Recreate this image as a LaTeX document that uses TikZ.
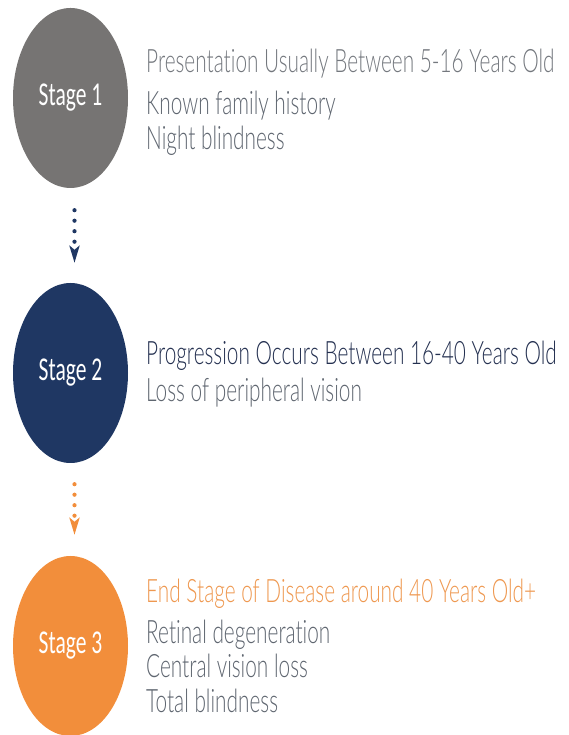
\documentclass[tikz,border=0pt]{standalone}
\usepackage{graphicx}
\usepackage{fontspec}
\setmainfont{Lato}
\newfontfamily\lightfont[Ligatures={NoCommon}]{Lato Light}
\newfontfamily\stagefont{Carlito}
\usepackage{xcolor}
\definecolor{ringgray}{HTML}{767473}
\definecolor{ringnavy}{HTML}{1F3763}
\definecolor{ringorange}{HTML}{F28E3B}
\definecolor{txt}{HTML}{5F6670}
\definecolor{headgray}{HTML}{74787E}
\definecolor{headnavy}{HTML}{243050}
\definecolor{headorange}{HTML}{EE9850}
\usetikzlibrary{arrows.meta,shapes.geometric}
\newcommand{\tall}[1]{\scalebox{1}[1.55]{#1}}
\tikzset{
  stagenode/.style={ellipse,minimum width=115pt,minimum height=180pt,inner sep=0pt,text=white,font=\stagefont\fontsize{21.5}{24}\selectfont},
  head/.style={anchor=base west,inner sep=0pt,font=\lightfont\fontsize{20.8}{24}\selectfont},
  line/.style={head,text=txt},
  flow/.style={line width=4.2pt,line cap=round,dash pattern=on 0pt off 10.5pt,-{Stealth[length=17pt,width=10pt,inset=4pt,sharp]}},
}
\begin{document}
\begin{tikzpicture}[x=1pt,y=1pt]
\useasboundingbox (0,0) rectangle (568,735);
% stages
\node[stagenode,fill=ringgray] (s1) at (70.5,637) {\tall{Stage 1}};
\node[stagenode,fill=ringnavy] (s2) at (70.5,362) {\tall{Stage 2}};
\node[stagenode,fill=ringorange] (s3) at (70.5,89) {\tall{Stage 3}};
% connectors
\draw[flow,draw=ringnavy,shorten <=22pt,shorten >=20pt] ([xshift=4pt]s1.south) -- ([xshift=4pt]s2.north);
\draw[flow,draw=ringorange,shorten <=21pt,shorten >=21pt] ([xshift=4pt]s2.south) -- ([xshift=4pt]s3.north);
% descriptions
\node[head,text=headgray] (h1) at (146,662) {\tall{Presentation Usually Between 5-16 Years Old}};
\node[head,text=headnavy] (h2) at (146,370) {\tall{Progression Occurs Between 16-40 Years Old}};
\node[head,text=headorange] (h3) at (146,132) {\tall{End Stage of Disease around 40 Years Old+}};
\foreach \y/\t in {620/Known family history,585/Night blindness,333/Loss of peripheral vision,91/Retinal degeneration,57/Central vision loss,22/Total blindness}
  \node[line] at (146,\y) {\tall{\t}};
\end{tikzpicture}
\end{document}
